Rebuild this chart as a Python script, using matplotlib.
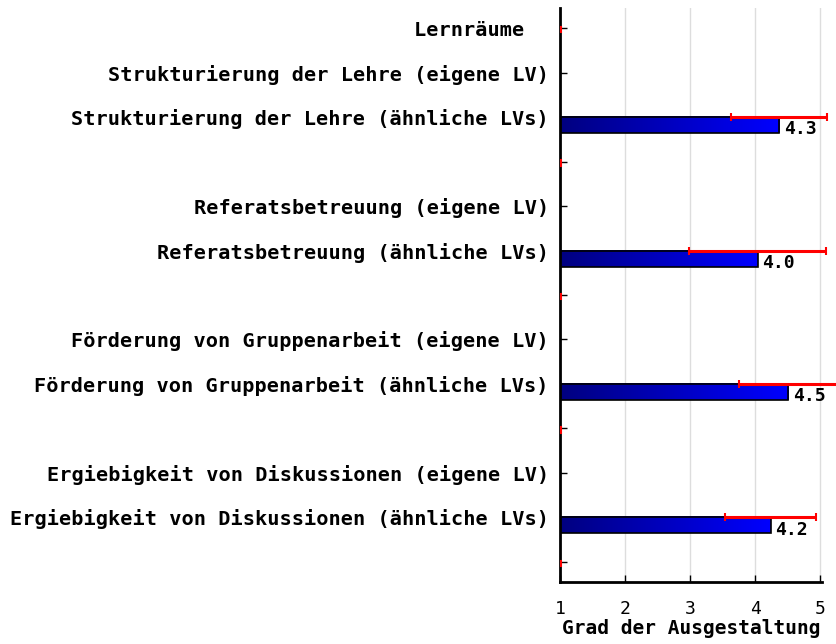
import numpy as np
import matplotlib
matplotlib.use("Agg")
import matplotlib.pyplot as plt
from matplotlib.patches import Rectangle

labels = [
    "Lernräume  ",
    "Strukturierung der Lehre (eigene LV)",
    "Strukturierung der Lehre (ähnliche LVs)",
    "",
    "Referatsbetreuung (eigene LV)",
    "Referatsbetreuung (ähnliche LVs)",
    "",
    "Förderung von Gruppenarbeit (eigene LV)",
    "Förderung von Gruppenarbeit (ähnliche LVs)",
    "",
    "Ergiebigkeit von Diskussionen (eigene LV)",
    "Ergiebigkeit von Diskussionen (ähnliche LVs)",
    "",
]
# rows that carry a bar, their mean and standard deviation
bar_rows = [2, 5, 8, 11]
means = [4.37, 4.04, 4.51, 4.24]
sds = [0.74, 1.05, 0.76, 0.70]
mean_labels = ["4.3", "4.0", "4.5", "4.2"]
empty_rows = [0, 3, 6, 9, 12]

font = "DejaVu Sans Mono"

fig = plt.figure(figsize=(8.37, 6.44), dpi=100)
ax = fig.add_axes([560 / 837, 1 - 582 / 644, 262 / 837, 574 / 644])

ax.set_xlim(1, 5.03)
ax.set_ylim(12.45, -0.45)

grad = np.linspace(0, 1, 256).reshape(1, -1)
cmap = matplotlib.colors.LinearSegmentedColormap.from_list("b", ["#000080", "#0000ff"])
bh = 0.36
for row, m, s, txt in zip(bar_rows, means, sds, mean_labels):
    ax.imshow(grad, cmap=cmap, aspect="auto", extent=[1, m, row + bh, row], zorder=2)
    ax.add_patch(Rectangle((1, row), m - 1, bh, fill=False, edgecolor="black", lw=1.2, zorder=3))
    ax.errorbar(m, row, xerr=s, fmt="none", ecolor="#ff0000", elinewidth=2.2,
                capsize=3, capthick=1.5, zorder=4, clip_on=False)
    ax.text(m + 0.07, row + 0.28, txt, fontfamily=font, fontweight="bold",
            fontsize=13, va="center", ha="left", zorder=5)

for row in empty_rows:
    ax.plot([1.02, 1.02], [row - 0.03, row + 0.1], color="#ff0000", lw=1.5,
            zorder=4, clip_on=False)

ax.set_xticks([1, 2, 3, 4, 5])
ax.set_xticklabels(["1", "2", "3", "4", "5"], fontfamily=font, fontsize=13)
ax.set_yticks(range(len(labels)))
ax.set_yticklabels(labels, fontfamily=font, fontweight="bold", fontsize=14.6)
ax.tick_params(axis="y", direction="in", length=5, width=1, pad=8)
ax.tick_params(axis="x", direction="in", length=5, width=1, pad=13)
ax.set_xlabel("Grad der Ausgestaltung", fontfamily=font, fontweight="bold",
              fontsize=14, labelpad=1)

ax.grid(axis="x", color="#dddddd", lw=1, zorder=0)
ax.set_axisbelow(True)
for side in ["top", "right"]:
    ax.spines[side].set_visible(False)
ax.spines["left"].set_linewidth(2)
ax.spines["bottom"].set_linewidth(2)

fig.savefig("out.png", dpi=100)
